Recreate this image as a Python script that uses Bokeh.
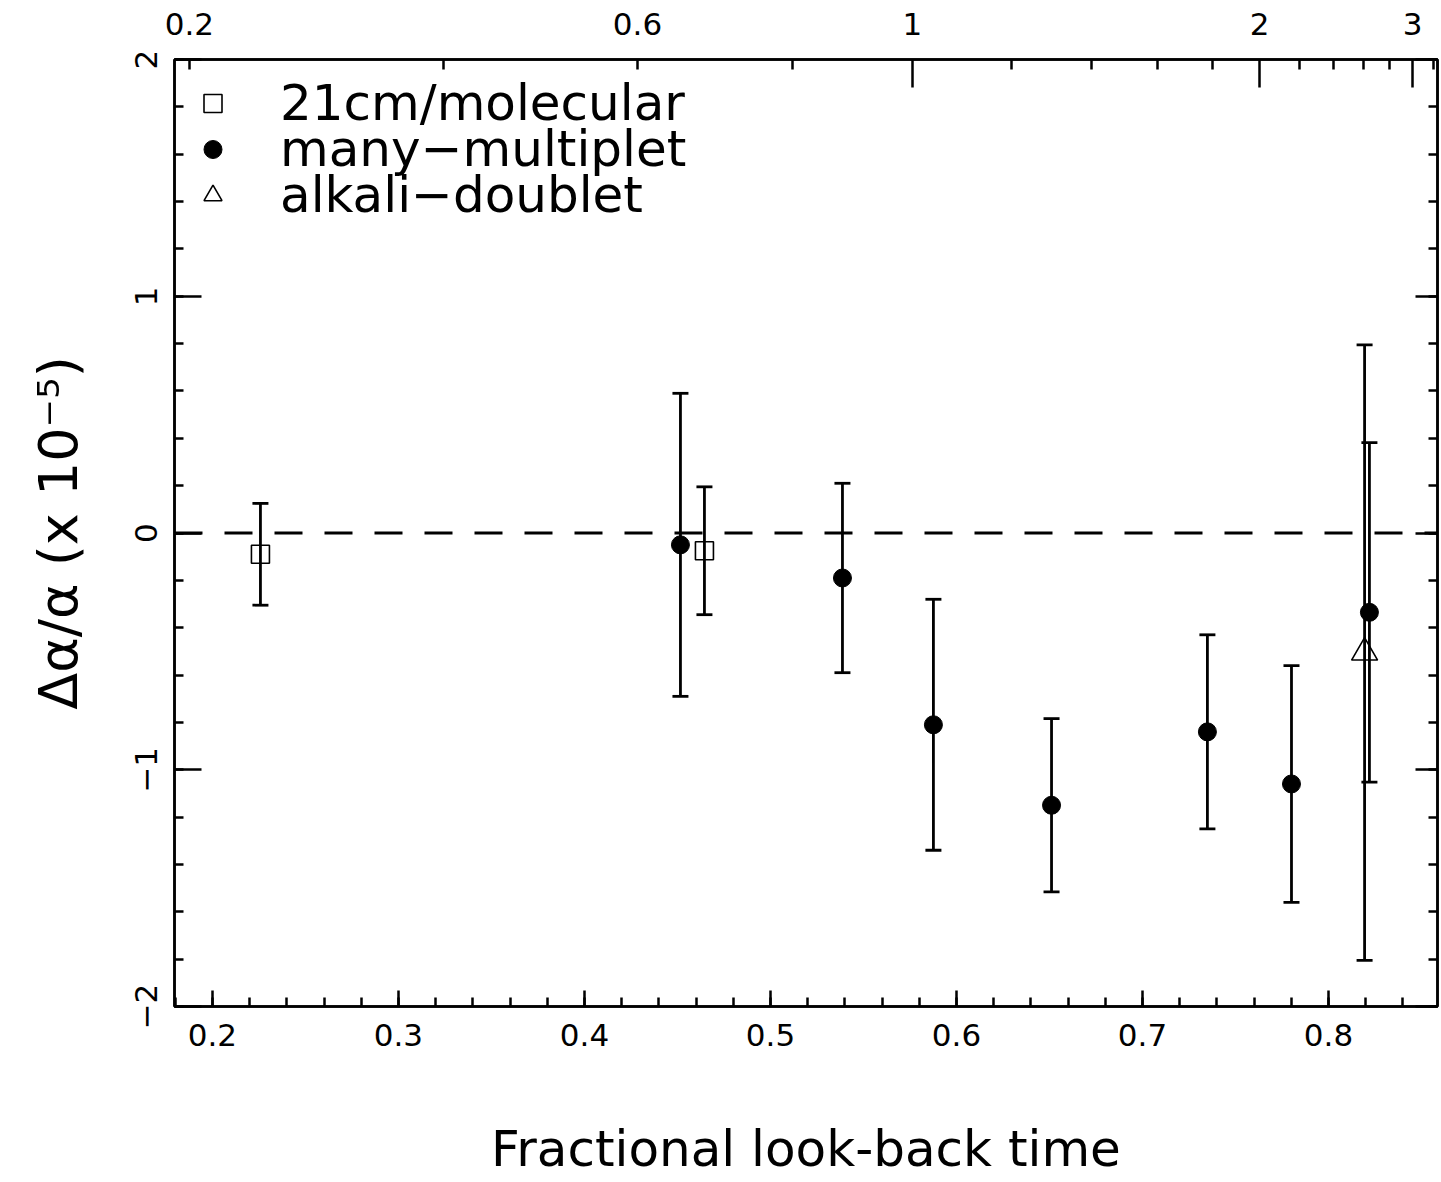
import numpy as np
from bokeh.plotting import figure
from bokeh.models import (Range1d, LinearAxis, FixedTicker, Span, Whisker, TeeHead,
                          ColumnDataSource, Legend, LegendItem, CustomLabelingPolicy)
from bokeh.embed import file_html
from bokeh.resources import INLINE

# ---- data (fractional look-back time, delta alpha / alpha in 1e-5) ----
mol_t = [0.2258, 0.4645]
mol_y = [-0.09, -0.075]
mol_err = [0.215, 0.27]

mm_t = [0.4516, 0.5387, 0.5876, 0.6511, 0.7349, 0.7801, 0.8220]
mm_y = [-0.05, -0.19, -0.81, -1.15, -0.84, -1.06, -0.335]
mm_err = [0.64, 0.40, 0.53, 0.366, 0.41, 0.50, 0.717]

ad_t = [0.8194]
ad_y = [-0.505]
ad_err = [1.30]

legend_labels = ["21cm/molecular", "many\u2212multiplet", "alkali\u2212doublet"]

# ---- top axis: redshift labels at their look-back-time positions ----
z_labels = ["0.2", "0.6", "1", "2", "3"]
z_label_pos = [0.1876, 0.4285, 0.5763, 0.7629, 0.8452]
z_long_pos = [0.5763, 0.7629, 0.8452]
z_short_pos = [0.1876, 0.3242, 0.4285, 0.5118, 0.6296, 0.6726, 0.7081, 0.7376,
               0.7844, 0.8027, 0.8188, 0.8328, 0.8565]

x_major = [0.2, 0.3, 0.4, 0.5, 0.6, 0.7, 0.8]
y_major = [-2, -1, 0, 1, 2]

FONT = "DejaVu Sans"

p = figure(width=1441, height=1182,
           x_range=Range1d(0.1796, 0.8586), y_range=Range1d(-2, 2),
           output_backend="svg", toolbar_location=None,
           min_border_left=174, min_border_top=59, min_border_right=2,
           min_border_bottom=176)
p.grid.visible = False
p.outline_line_color = "black"
p.outline_line_width = 2.5
p.background_fill_color = "white"
p.border_fill_color = "white"

no_labels = CustomLabelingPolicy(
    code="for (let i = 0; i < indices.size; i++) { indices.set(i, false) }\nreturn indices")

# bottom axis
xa = p.xaxis[0]
xa.ticker = FixedTicker(ticks=x_major, minor_ticks=list(np.round(np.arange(0.18, 0.861, 0.02), 2)))
xa.major_tick_in = 16
xa.major_tick_out = 0
xa.minor_tick_in = 9
xa.minor_tick_out = 0
xa.major_tick_line_width = 2.5
xa.minor_tick_line_width = 2.5
xa.axis_line_width = 2.5
xa.major_label_text_font = FONT
xa.major_label_text_font_size = "31px"
xa.major_label_text_color = "black"
xa.major_label_standoff = 17
xa.axis_label = "Fractional look-back time"
xa.axis_label_text_font = FONT
xa.axis_label_text_font_size = "50px"
xa.axis_label_text_font_style = "normal"
xa.axis_label_text_color = "black"
xa.axis_label_text_line_height = 0.8
xa.axis_label_standoff = 71

# left axis
ya = p.yaxis[0]
ya.ticker = FixedTicker(ticks=y_major, minor_ticks=list(np.round(np.arange(-2, 2.01, 0.2), 2)))
ya.major_tick_in = 27
ya.major_tick_out = 0
ya.minor_tick_in = 9
ya.minor_tick_out = 0
ya.major_tick_line_width = 2.5
ya.minor_tick_line_width = 2.5
ya.axis_line_width = 2.5
ya.major_label_orientation = "vertical"
ya.major_label_text_font = FONT
ya.major_label_text_font_size = "31px"
ya.major_label_text_color = "black"
ya.major_label_standoff = 18
ya.axis_label = "Δα/α (x 10⁻⁵)"
ya.axis_label_text_font = FONT
ya.axis_label_text_font_size = "54px"
ya.axis_label_text_font_style = "normal"
ya.axis_label_text_color = "black"
ya.axis_label_standoff = 42

# right axis: ticks only
ra = LinearAxis(ticker=FixedTicker(ticks=y_major, minor_ticks=list(np.round(np.arange(-2, 2.01, 0.2), 2))),
                major_tick_in=22, major_tick_out=0, minor_tick_in=9, minor_tick_out=0,
                major_tick_line_width=2.5, minor_tick_line_width=2.5, axis_line_width=2.5,
                major_label_text_font_size="1px", major_label_standoff=0,
                major_label_policy=no_labels)
p.add_layout(ra, "right")

# top axis: ticks only
ta_ticks = LinearAxis(ticker=FixedTicker(ticks=z_long_pos, minor_ticks=z_short_pos),
                      major_tick_in=28, major_tick_out=0, minor_tick_in=10, minor_tick_out=0,
                      major_tick_line_width=2.5, minor_tick_line_width=2.5, axis_line_width=2.5,
                      major_label_text_font_size="1px", major_label_standoff=0,
                      major_label_policy=no_labels)
p.add_layout(ta_ticks, "above")
# top axis: labels only
ta_lab = LinearAxis(ticker=FixedTicker(ticks=z_label_pos, minor_ticks=[]),
                    major_tick_in=0, major_tick_out=0, minor_tick_in=0, minor_tick_out=0,
                    axis_line_color=None,
                    major_label_overrides={pos: lab for pos, lab in zip(z_label_pos, z_labels)},
                    major_label_text_font=FONT, major_label_text_font_size="31px",
                    major_label_text_color="black", major_label_standoff=21)
p.add_layout(ta_lab, "above")

# zero line
p.add_layout(Span(location=0, dimension="width", line_color="black", line_width=3,
                  line_dash="28 22"))

# error bars
def add_errs(t, y, e):
    src = ColumnDataSource(dict(x=t, lo=[a - b for a, b in zip(y, e)], hi=[a + b for a, b in zip(y, e)]))
    w = Whisker(base="x", lower="lo", upper="hi", source=src, line_width=2.8, line_color="black",
                upper_head=TeeHead(size=16, line_width=2.8, line_color="black"),
                lower_head=TeeHead(size=16, line_width=2.8, line_color="black"))
    p.add_layout(w)

add_errs(mol_t, mol_y, mol_err)
add_errs(mm_t, mm_y, mm_err)
add_errs(ad_t, ad_y, ad_err)

r_mol = p.scatter(mol_t, mol_y, marker="square", size=18, fill_color=None,
                  line_color="black", line_width=1.6)
r_mm = p.scatter(mm_t, mm_y, marker="circle", size=18, fill_color="black",
                 line_color="black", line_width=1)
r_ad = p.scatter(ad_t, ad_y, marker="triangle", size=26, fill_color=None,
                 line_color="black", line_width=1.6)

# one legend per entry so the rows can sit closer than the text box height
legend_y = [874, 828, 782]
for lab, rend, ly in zip(legend_labels, [r_mol, r_mm, r_ad], legend_y):
    lg = Legend(items=[LegendItem(label=lab, renderers=[rend])],
                location=(16, ly), margin=0, padding=0, spacing=0,
                glyph_width=45, glyph_height=46, label_height=46,
                label_standoff=45, label_text_font=FONT, label_text_font_size="50px",
                label_text_color="black",
                background_fill_alpha=0, border_line_alpha=0)
    p.add_layout(lg)

open("out.html", "w").write(file_html(p, INLINE))
